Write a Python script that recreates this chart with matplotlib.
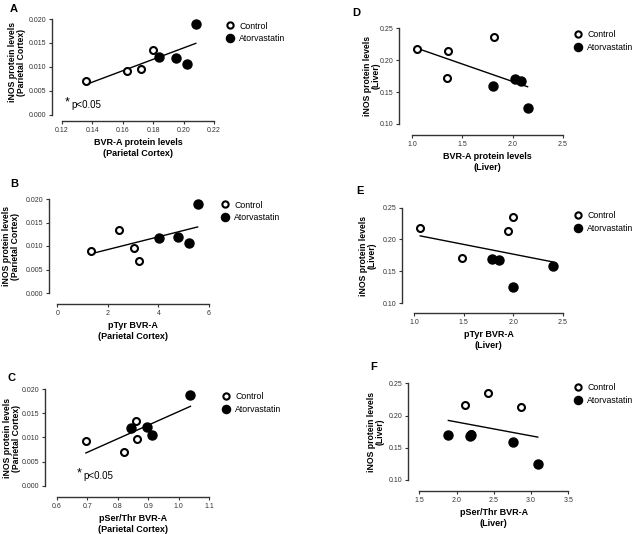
import numpy as np
import matplotlib
matplotlib.use("Agg")
import matplotlib.pyplot as plt

plt.rcParams['font.family'] = ['Liberation Sans', 'DejaVu Sans']

W, H = 644, 534

# iNOS vs BVR-A data (control = open, atorvastatin = filled)
a_ctrl_x = [0.136, 0.163, 0.172, 0.180]
a_ctrl_y = [0.0070, 0.0091, 0.0095, 0.0135]
a_ator_x = [0.184, 0.195, 0.202, 0.208]
a_ator_y = [0.0120, 0.0119, 0.0107, 0.0189]

b_ctrl_x = [1.33, 2.45, 3.04, 3.24]
b_ctrl_y = [0.0090, 0.0135, 0.0096, 0.0069]
b_ator_x = [4.03, 4.77, 5.19, 5.55]
b_ator_y = [0.0118, 0.0120, 0.0107, 0.0189]

c_ctrl_x = [0.695, 0.821, 0.861, 0.863]
c_ctrl_y = [0.0092, 0.0070, 0.0134, 0.0097]
c_ator_x = [0.842, 0.895, 0.911, 1.039]
c_ator_y = [0.0120, 0.0121, 0.0106, 0.0188]

d_ctrl_x = [1.05, 1.36, 1.35, 1.81]
d_ctrl_y = [0.218, 0.214, 0.172, 0.236]
d_ator_x = [1.80, 2.02, 2.08, 2.15]
d_ator_y = [0.160, 0.170, 0.168, 0.125]

e_ctrl_x = [1.06, 1.48, 1.95, 2.00]
e_ctrl_y = [0.218, 0.171, 0.214, 0.236]
e_ator_x = [1.79, 1.855, 2.00, 2.40]
e_ator_y = [0.170, 0.168, 0.125, 0.158]

f_ctrl_x = [2.11, 2.42, 2.87, 2.20]
f_ctrl_y = [0.217, 0.235, 0.214, 0.172]
f_ator_x = [1.89, 2.18, 2.20, 2.76, 3.09]
f_ator_y = [0.170, 0.168, 0.170, 0.159, 0.125]

cortex_ticks = [0.000, 0.005, 0.010, 0.015, 0.020]
liver_ticks = [0.10, 0.15, 0.20, 0.25]

fig = plt.figure(figsize=(W / 100, H / 100), dpi=100)
fig.patch.set_facecolor('white')


def panel(box, spine_px, xt, yt, xfmt, yfmt, ctrl, ator, ylab, ylab_xy, xlab,
          letter, letter_xy, leg_xy):
    # box: (x_left, x_right, y_bottom, y_top) in pixels
    x0, x1, yb, yt_px = box
    ax = fig.add_axes([x0 / W, 1 - yb / H, (x1 - x0) / W, (yb - yt_px) / H])
    ax.set_xlim(xt[0], xt[-1])
    ax.set_ylim(yt[0], yt[-1])
    ax.set_xticks(xt)
    ax.set_yticks(yt)
    ax.set_xticklabels([xfmt.format(v) for v in xt])
    ax.set_yticklabels([yfmt.format(v) for v in yt])
    for s in ['top', 'right']:
        ax.spines[s].set_visible(False)
    ax.spines['left'].set_position(('outward', (x0 - spine_px[0]) * 0.72))
    ax.spines['bottom'].set_position(('outward', (spine_px[1] - yb) * 0.72))
    for s in ['left', 'bottom']:
        ax.spines[s].set_linewidth(1.0)
        ax.spines[s].set_color('#333333')
    ax.tick_params(length=2.5, width=0.8, labelsize=5, pad=1.5, colors='#333333')
    ax.patch.set_alpha(0)

    ax.plot(ctrl[0], ctrl[1], 'o', mfc='white', mec='black', mew=1.5, ms=5,
            clip_on=False, zorder=3, label='Control')
    ax.plot(ator[0], ator[1], 'o', mfc='black', mec='black', ms=6.5,
            clip_on=False, zorder=3, label='Atorvastatin')

    xs = np.array(list(ctrl[0]) + list(ator[0]))
    ys = np.array(list(ctrl[1]) + list(ator[1]))
    k, b = np.polyfit(xs, ys, 1)
    xl = np.array([xs.min(), xs.max()])
    ax.plot(xl, k * xl + b, color='black', lw=1.0, zorder=2)

    fig.text(ylab_xy[0] / W, 1 - ylab_xy[1] / H, ylab, rotation=90, fontsize=6.2,
             fontweight='bold', ha='center', va='center', linespacing=1.0,
             multialignment='center')
    ax.set_xlabel(xlab, fontsize=6.5, fontweight='bold', labelpad=3, linespacing=1.3)

    fig.text(letter_xy[0] / W, 1 - letter_xy[1] / H, letter, fontsize=8,
             fontweight='bold', va='center', ha='left')

    h, l = ax.get_legend_handles_labels()
    ax.legend(h, l, loc='center left', bbox_to_anchor=(leg_xy[0] / W, 1 - leg_xy[1] / H),
              bbox_transform=fig.transFigure, frameon=False, fontsize=6.3,
              handletextpad=0.6, handlelength=1.0, labelspacing=0.45,
              markerscale=0.9, borderpad=0)
    return ax


axA = panel((62, 214, 114.7, 19), (52, 121), [0.12, 0.14, 0.16, 0.18, 0.20, 0.22],
            cortex_ticks, '{:.2f}', '{:.3f}', (a_ctrl_x, a_ctrl_y), (a_ator_x, a_ator_y),
            'iNOS protein levels\n(Parietal Cortex)', (17, 62),
            'BVR-A protein levels\n(Parietal Cortex)',
            'A', (10, 9), (221, 32.5))
axA.text(0.02, 0.07, '*', transform=axA.transAxes, fontsize=9, ha='left', va='bottom')
axA.text(0.065, 0.05, 'p<0.05', transform=axA.transAxes, fontsize=7, ha='left', va='bottom')

axB = panel((57.3, 209, 293, 199), (49, 304), [0, 2, 4, 6],
            cortex_ticks, '{:.0f}', '{:.3f}', (b_ctrl_x, b_ctrl_y), (b_ator_x, b_ator_y),
            'iNOS protein levels\n(Parietal Cortex)', (11, 246),
            'pTyr BVR-A\n(Parietal Cortex)',
            'B', (10, 184), (216, 211.5))

axC = panel((57, 209, 485.7, 389.3), (45, 497), [0.6, 0.7, 0.8, 0.9, 1.0, 1.1],
            cortex_ticks, '{:.1f}', '{:.3f}', (c_ctrl_x, c_ctrl_y), (c_ator_x, c_ator_y),
            'iNOS protein levels\n(Parietal Cortex)', (12, 438),
            'pSer/Thr BVR-A\n(Parietal Cortex)',
            'C', (8, 378), (217, 403))
axC.text(0.13, 0.07, '*', transform=axC.transAxes, fontsize=9, ha='left', va='bottom')
axC.text(0.175, 0.05, 'p<0.05', transform=axC.transAxes, fontsize=7, ha='left', va='bottom')

axD = panel((412.3, 562.7, 124, 28.3), (399.3, 135), [1.0, 1.5, 2.0, 2.5],
            liver_ticks, '{:.1f}', '{:.2f}', (d_ctrl_x, d_ctrl_y), (d_ator_x, d_ator_y),
            'iNOS protein levels\n(Liver)', (371.5, 76),
            'BVR-A protein levels\n(Liver)',
            'D', (352, 13), (569, 41))

axE = panel((414.3, 562.7, 303, 207.7), (401.7, 313), [1.0, 1.5, 2.0, 2.5],
            liver_ticks, '{:.1f}', '{:.2f}', (e_ctrl_x, e_ctrl_y), (e_ator_x, e_ator_y),
            'iNOS protein levels\n(Liver)', (368, 256),
            'pTyr BVR-A\n(Liver)',
            'E', (356, 191), (569, 222))

axF = panel((419.3, 568.3, 480, 383.3), (408.3, 491), [1.5, 2.0, 2.5, 3.0, 3.5],
            liver_ticks, '{:.1f}', '{:.2f}', (f_ctrl_x, f_ctrl_y), (f_ator_x, f_ator_y),
            'iNOS protein levels\n(Liver)', (376, 432),
            'pSer/Thr BVR-A\n(Liver)',
            'F', (370, 367), (569, 394))

fig.savefig('out.png', dpi=100, facecolor='white')
